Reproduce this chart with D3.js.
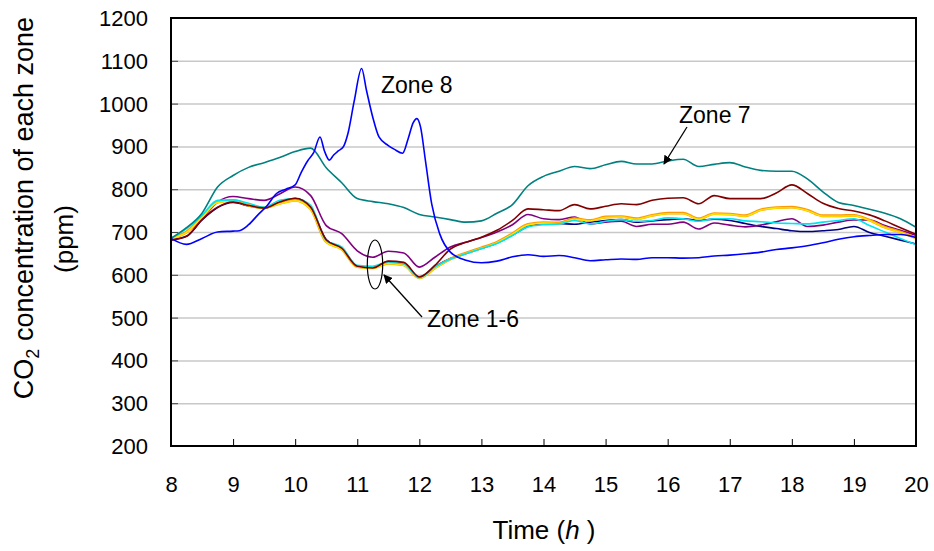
<!DOCTYPE html>
<html>
<head>
<meta charset="utf-8">
<script src="https://cdn.jsdelivr.net/npm/d3@7"></script>
<style>
  body { margin: 0; background: #fff; }
  svg { display: block; font-family: "Liberation Sans", Arial, sans-serif; }
</style>
</head>
<body>
<svg id="chart" width="934" height="551"></svg>
<script>
// common time grid (h) for zones 1-7
var hours = [8, 8.25, 8.5, 8.75, 9, 9.25, 9.5, 9.75, 10, 10.25, 10.5, 10.75, 11, 11.25, 11.5, 11.75,
  12, 12.25, 12.5, 12.75, 13, 13.25, 13.5, 13.75, 14, 14.25, 14.5, 14.75, 15, 15.25, 15.5, 15.75,
  16, 16.25, 16.5, 16.75, 17, 17.25, 17.5, 17.75, 18, 18.25, 18.5, 18.75, 19, 19.25, 19.5, 19.75, 20];

var zone1 = [682, 690, 728, 757, 769, 761, 755, 769, 778, 757, 682, 662, 619, 616, 631, 627,
  594, 619, 638, 650, 662, 674, 693, 713, 720, 720, 718, 723, 727, 729, 723, 726,
  729, 731, 727, 730, 727, 720, 713, 708, 703, 701, 703, 706, 713, 699, 690, 681, 672];
var zone2 = [685, 700, 731, 770, 783, 778, 774, 789, 805, 785, 715, 696, 656, 641, 655, 651,
  618, 641, 665, 676, 687, 700, 717, 741, 731, 729, 735, 719, 723, 725, 713, 718,
  718, 723, 707, 721, 716, 712, 716, 724, 731, 713, 716, 723, 728, 728, 715, 704, 692];
var zone3 = [681, 690, 729, 758, 770, 762, 756, 770, 779, 758, 682, 662, 620, 616, 632, 629,
  595, 622, 660, 676, 688, 704, 727, 754, 752, 750, 764, 754, 760, 766, 764, 774,
  779, 780, 766, 785, 778, 778, 778, 791, 810, 790, 767, 755, 749, 740, 726, 710, 695];
var zone4 = [685, 708, 739, 774, 775, 767, 758, 774, 778, 762, 680, 665, 622, 620, 630, 626,
  593, 618, 637, 649, 661, 673, 692, 712, 717, 719, 727, 719, 725, 729, 725, 727,
  733, 731, 725, 731, 731, 726, 724, 721, 720, 719, 723, 727, 731, 715, 700, 685, 670];
var zone5 = [685, 700, 735, 770, 774, 762, 757, 767, 774, 754, 677, 660, 619, 616, 627, 623,
  593, 616, 637, 651, 663, 676, 696, 718, 722, 721, 731, 727, 735, 736, 731, 739,
  744, 744, 731, 743, 742, 738, 752, 757, 758, 751, 738, 738, 739, 728, 711, 700, 686];
var zone6 = [684, 699, 734, 769, 773, 761, 756, 766, 773, 753, 676, 659, 618, 615, 626, 622,
  592, 615, 636, 650, 662, 675, 695, 717, 721, 720, 730, 726, 734, 735, 730, 738,
  743, 743, 730, 742, 741, 737, 751, 756, 757, 750, 737, 737, 738, 727, 710, 699, 685];
var zone7 = [685, 710, 744, 805, 832, 851, 862, 874, 888, 896, 850, 815, 778, 771, 766, 757,
  741, 735, 729, 723, 726, 744, 764, 808, 830, 842, 853, 848, 857, 865, 859, 859,
  866, 870, 853, 858, 862, 852, 844, 842, 842, 824, 794, 769, 762, 753, 744, 731, 711];

// zone 8 has its own finer time grid around the peaks
var hours8 = [8, 8.25, 8.5, 8.75, 9, 9.1, 9.25, 9.4, 9.55, 9.7, 9.85, 10, 10.1, 10.2, 10.3, 10.4,
  10.47, 10.55, 10.62, 10.7, 10.78, 10.85, 10.95, 11.07, 11.15, 11.25, 11.35, 11.5, 11.6, 11.73,
  11.82, 11.9, 11.96, 12.02, 12.1, 12.2, 12.33, 12.5, 12.75, 13, 13.25, 13.5, 13.75, 14, 14.25,
  14.5, 14.75, 15, 15.25, 15.5, 15.75, 16, 16.25, 16.5, 16.75, 17, 17.25, 17.5, 17.75, 18, 18.25,
  18.5, 18.75, 19, 19.25, 19.5, 19.75, 20];
var zone8 = [685, 671, 685, 700, 702, 703, 717, 740, 762, 790, 800, 810, 840, 866, 886, 922,
  890, 868, 880, 890, 900, 930, 1005, 1082, 1030, 968, 922, 902, 893, 884,
  918, 955, 965, 945, 865, 765, 695, 653, 634, 628, 632, 642, 647, 643, 645,
  640, 633, 635, 637, 636, 640, 640, 639, 640, 644, 646, 649, 653, 659, 663, 668,
  675, 683, 689, 692, 694, 694, 687];

var zoneColors = ['#000080', '#800080', '#800000', '#00e5f0', '#ff9900', '#ffe600', '#008080', '#0000ff'];
var yTicks = [200, 300, 400, 500, 600, 700, 800, 900, 1000, 1100, 1200];
var xTicks = [8, 9, 10, 11, 12, 13, 14, 15, 16, 17, 18, 19, 20];

var plotLeft = 171, plotRight = 916, plotTop = 18, plotBottom = 446;
var w = plotRight - plotLeft, h = plotBottom - plotTop;

var svg = d3.select('#chart');
var g = svg.append('g').attr('transform', 'translate(' + plotLeft + ',' + plotTop + ')');

var xscale = d3.scaleLinear().domain([8, 20]).range([0, w]);
var yscale = d3.scaleLinear().domain([200, 1200]).range([h, 0]);

// gridlines
g.append('g')
  .call(d3.axisLeft(yscale).tickValues(yTicks.slice(1, -1)).tickSize(-w).tickFormat(''))
  .call(s => s.select('.domain').remove())
  .call(s => s.selectAll('line').attr('stroke', '#c8c8c8').attr('stroke-width', 1.5));

// y axis: inward ticks + labels
var yAxis = g.append('g')
  .call(d3.axisLeft(yscale).tickValues(yTicks).tickSize(-7).tickPadding(23).tickFormat(d3.format('d')))
  .call(s => s.select('.domain').remove());
yAxis.selectAll('line').attr('stroke', '#444').attr('stroke-width', 1);
yAxis.selectAll('text')
  .attr('font-size', '22px').attr('fill', '#000')
  .attr('font-family', '"Liberation Sans", Arial, sans-serif')
  .attr('dy', null).attr('y', 7.5);

// x axis
var xAxis = g.append('g')
  .attr('transform', 'translate(0,' + h + ')')
  .call(d3.axisBottom(xscale).tickValues(xTicks).tickSize(-7).tickPadding(30))
  .call(s => s.select('.domain').remove());
xAxis.selectAll('line').attr('stroke', '#000').attr('stroke-width', 1);
xAxis.selectAll('text')
  .attr('font-size', '22px').attr('fill', '#000')
  .attr('font-family', '"Liberation Sans", Arial, sans-serif');

// lines
var line = d3.line()
  .x(d => xscale(d[0]))
  .y(d => yscale(d[1]))
  .curve(d3.curveMonotoneX);

var zones = [zone1, zone2, zone3, zone4, zone5, zone6, zone7];
var order = [0, 1, 4, 5, 3, 2, 6];
order.forEach(function(k) {
  var pts = hours.map((t, i) => [t, zones[k][i]]);
  g.append('path')
    .attr('d', line(pts))
    .attr('fill', 'none')
    .attr('stroke', zoneColors[k])
    .attr('stroke-width', k == 4 ? 2.8 : (k == 5 ? 1.4 : 1.6));
});
g.append('path')
  .attr('d', line(hours8.map((t, i) => [t, zone8[i]])))
  .attr('fill', 'none')
  .attr('stroke', zoneColors[7])
  .attr('stroke-width', 1.6);

// frame
g.append('rect')
  .attr('x', 0).attr('y', 0).attr('width', w).attr('height', h)
  .attr('fill', 'none').attr('stroke', '#000').attr('stroke-width', 2);

// annotations
svg.append('defs').append('marker')
  .attr('id', 'arrow').attr('viewBox', '0 0 10 10')
  .attr('refX', 9).attr('refY', 5)
  .attr('markerWidth', 9).attr('markerHeight', 9)
  .attr('markerUnits', 'userSpaceOnUse')
  .attr('orient', 'auto')
  .append('path').attr('d', 'M0,0 L10,5 L0,10 z').attr('fill', '#000');

svg.append('text').attr('x', 381).attr('y', 93).attr('font-size', '23px').text('Zone 8');
svg.append('text').attr('x', 679).attr('y', 123).attr('font-size', '23px').text('Zone 7');
svg.append('text').attr('x', 427).attr('y', 327).attr('font-size', '23px').text('Zone 1-6');

svg.append('line')
  .attr('x1', 687).attr('y1', 127).attr('x2', 664).attr('y2', 164)
  .attr('stroke', '#000').attr('stroke-width', 1.3).attr('marker-end', 'url(#arrow)');
svg.append('line')
  .attr('x1', 422).attr('y1', 317).attr('x2', 384).attr('y2', 275)
  .attr('stroke', '#000').attr('stroke-width', 1.3).attr('marker-end', 'url(#arrow)');
svg.append('ellipse')
  .attr('cx', 375).attr('cy', 264.5).attr('rx', 7.7).attr('ry', 24.5)
  .attr('fill', 'none').attr('stroke', '#000').attr('stroke-width', 1.2);

// axis titles
var xt = svg.append('text').attr('x', 544).attr('y', 539)
  .attr('text-anchor', 'middle').attr('font-size', '26px');
xt.append('tspan').text('Time (');
xt.append('tspan').attr('font-style', 'italic').text('h');
xt.append('tspan').text(' )');

var yt = svg.append('text')
  .attr('transform', 'translate(33,208) rotate(-90)')
  .attr('text-anchor', 'middle').attr('font-size', '27px');
yt.append('tspan').text('CO');
yt.append('tspan').attr('font-size', '18px').attr('dy', 6).text('2');
yt.append('tspan').attr('dy', -6).text(' concentration of each zone');

svg.append('text')
  .attr('transform', 'translate(73,239) rotate(-90)')
  .attr('text-anchor', 'middle').attr('font-size', '26px')
  .text('(ppm)');
</script>
</body>
</html>
